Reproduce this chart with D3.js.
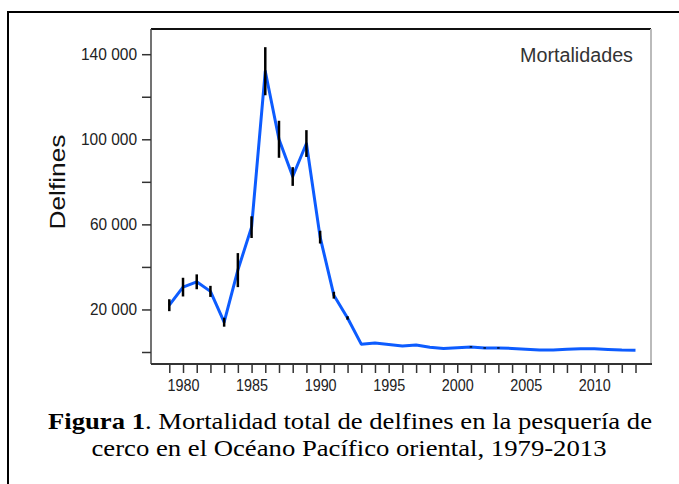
<!DOCTYPE html>
<html>
<head>
<meta charset="utf-8">
<script src="https://cdn.jsdelivr.net/npm/d3@7"></script>
<style>
  body { margin: 0; background: #fff; }
  .tick text { font-family: "Liberation Sans", Arial, sans-serif; fill: #222; }
</style>
</head>
<body>
<div id="chart"></div>
<script>
// years 1979-2013
const years = d3.range(1979, 2014);
// total dolphin mortality
const deaths = [22000, 30500, 33000, 28500, 14000, 38500, 58700, 132000, 100000, 82500, 98000,
  54000, 26700, 16000, 3700, 4200, 3500, 2800, 3300, 2200, 1700, 2000, 2400, 1900, 1900,
  1700, 1250, 900, 900, 1300, 1500, 1500, 1200, 900, 800];
// half width of the black error bars
const errs = [2800, 4400, 3500, 2600, 2100, 8000, 5100, 11300, 8700, 4400, 6300,
  3000, 1600, 800, 0, 0, 0, 0, 0, 0, 0, 0, 300, 300, 300,
  0, 0, 0, 0, 0, 0, 0, 0, 0, 0];
const yTicks = [0, 20000, 40000, 60000, 80000, 100000, 120000, 140000];
const yLabels = [20000, 60000, 100000, 140000];
const xLabels = [1980, 1985, 1990, 1995, 2000, 2005, 2010];

const W = 679, H = 484;
const svg = d3.select("#chart").append("svg")
  .attr("width", W)
  .attr("height", H);

// outer figure box (runs off the right and bottom)
svg.append("rect")
  .attr("x", 8).attr("y", 12)
  .attr("width", 720).attr("height", 520)
  .attr("fill", "none")
  .attr("stroke", "#000")
  .attr("stroke-width", 2);

const x = d3.scaleLinear().domain([1979, 2013]).range([169.3, 635.5]);
const y = d3.scaleLinear().domain([0, 140000]).range([352, 54.2]);

const pLeft = 151, pRight = 651, pTop = 29, pBottom = 364;

// plot frame
svg.append("line").attr("x1", pLeft).attr("x2", pRight).attr("y1", pTop).attr("y2", pTop)
  .attr("stroke", "#111").attr("stroke-width", 2);
svg.append("line").attr("x1", pRight).attr("x2", pRight).attr("y1", pTop).attr("y2", pBottom)
  .attr("stroke", "#bbb").attr("stroke-width", 2);
svg.append("line").attr("x1", pLeft).attr("x2", pLeft).attr("y1", pTop).attr("y2", pBottom)
  .attr("stroke", "#444").attr("stroke-width", 1.5);
svg.append("line").attr("x1", pLeft).attr("x2", pRight + 1).attr("y1", pBottom).attr("y2", pBottom)
  .attr("stroke", "#333").attr("stroke-width", 2);

// y axis
const fmt = d => d3.format(",")(d).replace(/,/g, " ");
const yAxis = svg.append("g")
  .attr("transform", `translate(${pLeft},0)`)
  .call(d3.axisLeft(y).tickValues(yTicks).tickSize(9).tickPadding(5)
    .tickFormat(d => yLabels.includes(d) ? fmt(d) : ""));
yAxis.select(".domain").remove();
yAxis.selectAll(".tick line").attr("stroke", "#333").attr("stroke-width", 1.5);
yAxis.selectAll(".tick text")
  .style("font-size", "17px")
  .attr("dy", "0.32em")
  .attr("textLength", d => d >= 100000 ? 56 : 47)
  .attr("lengthAdjust", "spacingAndGlyphs");

// x axis
const xAxis = svg.append("g")
  .attr("transform", `translate(0,${pBottom})`)
  .call(d3.axisBottom(x).tickValues(years).tickSize(9).tickPadding(6)
    .tickFormat(d => xLabels.includes(d) ? d : ""));
xAxis.select(".domain").remove();
xAxis.selectAll(".tick line").attr("stroke", "#333").attr("stroke-width", 1.5);
xAxis.selectAll(".tick text")
  .style("font-size", "17px")
  .attr("textLength", d => xLabels.includes(d) ? 32 : null)
  .attr("lengthAdjust", "spacingAndGlyphs");

// y axis title
svg.append("text")
  .attr("transform", "translate(65,182) rotate(-90)")
  .attr("text-anchor", "middle")
  .attr("textLength", 95)
  .attr("lengthAdjust", "spacingAndGlyphs")
  .style("font-family", "Liberation Sans, Arial, sans-serif")
  .style("font-size", "22px")
  .attr("fill", "#111")
  .text("Delfines");

// series label
svg.append("text")
  .attr("x", 633).attr("y", 62)
  .attr("text-anchor", "end")
  .attr("textLength", 113)
  .attr("lengthAdjust", "spacingAndGlyphs")
  .style("font-family", "Liberation Sans, Arial, sans-serif")
  .style("font-size", "20px")
  .attr("fill", "#333")
  .text("Mortalidades");

const data = years.map((yr, i) => ({ yr, v: deaths[i], e: errs[i] }));

// blue line
svg.append("path")
  .datum(data)
  .attr("fill", "none")
  .attr("stroke", "#0d5cff")
  .attr("stroke-width", 3)
  .attr("stroke-linejoin", "round")
  .attr("d", d3.line().x(d => x(d.yr)).y(d => y(d.v)));

// error bars
svg.append("g")
  .selectAll("line")
  .data(data.filter(d => d.e > 0))
  .enter().append("line")
  .attr("x1", d => x(d.yr)).attr("x2", d => x(d.yr))
  .attr("y1", d => y(d.v - d.e)).attr("y2", d => y(d.v + d.e))
  .attr("stroke", "#000")
  .attr("stroke-width", 2.5);

// caption
const cap = svg.append("g")
  .style("font-family", "Liberation Serif, 'Times New Roman', serif")
  .style("font-size", "24px")
  .attr("fill", "#000");
const l1 = cap.append("text").attr("x", 350).attr("y", 429).attr("text-anchor", "middle")
  .attr("textLength", 604).attr("lengthAdjust", "spacingAndGlyphs");
l1.append("tspan").style("font-weight", "bold").text("Figura 1");
l1.append("tspan").text(". Mortalidad total de delfines en la pesquería de");
cap.append("text").attr("x", 349).attr("y", 456).attr("text-anchor", "middle")
  .attr("textLength", 515).attr("lengthAdjust", "spacingAndGlyphs")
  .text("cerco en el Océano Pacífico oriental, 1979-2013");
</script>
</body>
</html>
